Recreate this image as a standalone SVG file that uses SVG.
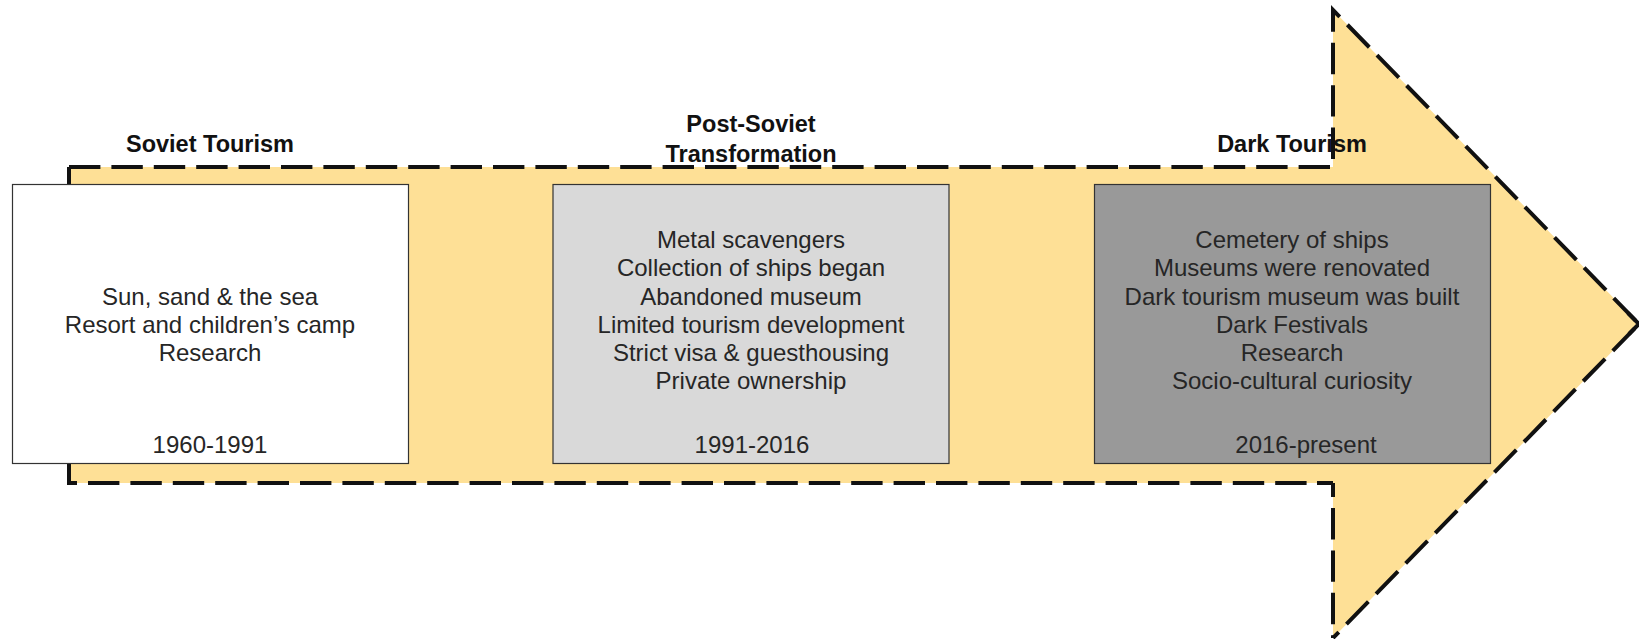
<svg xmlns="http://www.w3.org/2000/svg" width="1639" height="639" viewBox="0 0 1639 639">
<style>
text{font-family:"Liberation Sans",Arial,sans-serif;font-size:24px;fill:#262626;text-anchor:middle}
.h{font-weight:bold;font-size:23.500px;fill:#111}
.box{stroke:#333;stroke-width:1.2}
.dash{fill:none;stroke:#111;stroke-width:4;stroke-dasharray:31.4 11}
.solid{fill:none;stroke:#111;stroke-width:4}
</style>
<rect width="1639" height="639" fill="#fff"/>
<g id="connectors">
<path id="arrow" d="M69 167H1333V10L1639 324L1333 638V483H69Z" fill="#fee096" stroke="none"/>
<path class="dash" d="M69 167H1333V10L1639 324L1333 638"/>
<path class="dash" d="M1333 483V638" stroke-dashoffset="17.400"/>
<path class="dash" d="M88 483H1333"/>
<path class="solid" d="M69 186V167M69 462V483H77M1317 483H1333M1628 313L1639 324L1629 334"/>
</g>
<g id="node-soviet">
<rect class="box" x="12.500" y="184.500" width="396" height="279" fill="#fff"/>
<text class="h" x="210" y="152">Soviet Tourism</text>
<text x="210" y="305">Sun, sand &amp; the sea</text>
<text x="210" y="333">Resort and children’s camp</text>
<text x="210" y="361">Research</text>
<text x="210" y="453">1960-1991</text>
</g>
<g id="node-post-soviet">
<rect class="box" x="553" y="184.500" width="396" height="279" fill="#d9d9d9"/>
<text class="h" x="751" y="132">Post-Soviet</text>
<text class="h" x="751" y="162">Transformation</text>
<text x="751" y="248">Metal scavengers</text>
<text x="751" y="276">Collection of ships began</text>
<text x="751" y="305">Abandoned museum</text>
<text x="751" y="333">Limited tourism development</text>
<text x="751" y="361">Strict visa &amp; guesthousing</text>
<text x="751" y="389">Private ownership</text>
<text x="752" y="453">1991-2016</text>
</g>
<g id="node-dark">
<rect class="box" x="1094.500" y="184.500" width="396" height="279" fill="#999"/>
<text class="h" x="1292" y="152">Dark Tourism</text>
<text x="1292" y="248">Cemetery of ships</text>
<text x="1292" y="276">Museums were renovated</text>
<text x="1292" y="305">Dark tourism museum was built</text>
<text x="1292" y="333">Dark Festivals</text>
<text x="1292" y="361">Research</text>
<text x="1292" y="389">Socio-cultural curiosity</text>
<text x="1306" y="453">2016-present</text>
</g>
</svg>
